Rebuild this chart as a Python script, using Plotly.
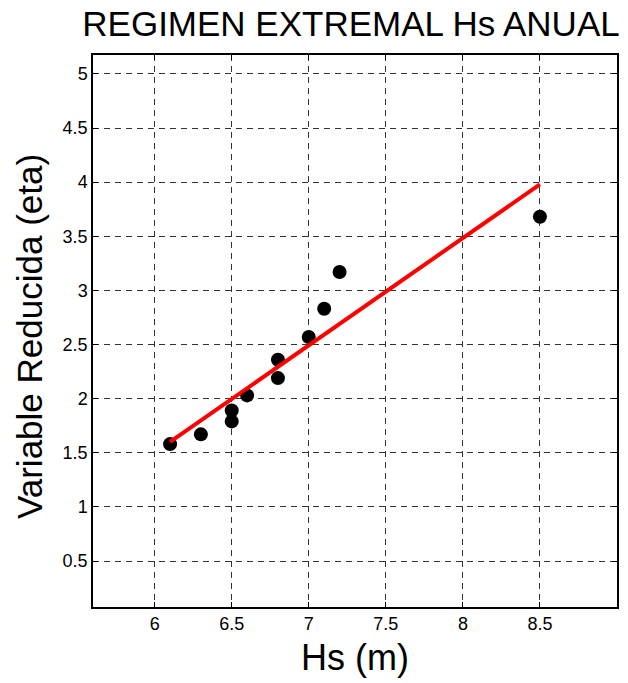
import plotly.graph_objects as go

hs = [6.1, 6.3, 6.5, 6.5, 6.6, 6.8, 6.8, 7.0, 7.1, 7.2, 8.5]
eta = [1.58, 1.67, 1.79, 1.89, 2.03, 2.19, 2.36, 2.57, 2.83, 3.17, 3.68]
fit_x = [6.1, 8.5]
fit_y = [1.60, 3.98]
x_ticks = [6, 6.5, 7, 7.5, 8, 8.5]
y_ticks = [0.5, 1, 1.5, 2, 2.5, 3, 3.5, 4, 4.5, 5]

FONT = "Liberation Sans, Arial, Helvetica, sans-serif"

fig = go.Figure()
fig.add_trace(go.Scatter(x=hs, y=eta, mode="markers",
                         marker=dict(color="black", size=14), showlegend=False))
fig.add_trace(go.Scatter(x=fit_x, y=fit_y, mode="lines",
                         line=dict(color="#ff0000", width=4), showlegend=False))

axis_common = dict(
    showline=True, linecolor="black", linewidth=1.5, mirror="ticks",
    ticks="inside", ticklen=5, tickcolor="black", tickwidth=1,
    showgrid=True, gridcolor="#333333", gridwidth=1, griddash="6px,5px",
    zeroline=False, automargin=False,
    tickfont=dict(family=FONT, size=18, color="black"),
)

W, H = 628, 683

fig.update_layout(
    width=W, height=H,
    margin=dict(l=93, r=11, t=55, b=76),
    paper_bgcolor="white", plot_bgcolor="white",
    font=dict(family=FONT, color="black"),
    title=dict(text="REGIMEN EXTREMAL Hs ANUAL", x=351 / W, xanchor="center",
               y=1 - 24 / H, yanchor="middle", yref="container", automargin=False,
               font=dict(family=FONT, size=35, color="black")),
    xaxis=dict(range=[5.6, 9.0], tickvals=x_ticks,
               ticktext=[str(v) for v in x_ticks],
               title=dict(text="Hs (m)", font=dict(family=FONT, size=36), standoff=11),
               **axis_common),
    yaxis=dict(range=[0.075, 5.175], tickvals=y_ticks,
               ticktext=[str(v) for v in y_ticks],
               **axis_common),
    annotations=[dict(text="Variable Reducida (eta)", textangle=-90,
                      xref="paper", yref="paper",
                      x=-64 / 524, y=(607 - 337) / 552,
                      xanchor="center", yanchor="middle", showarrow=False,
                      font=dict(family=FONT, size=35, color="black"))],
)

fig.write_html("out.html", config={"displayModeBar": False},
               post_script="document.body.style.margin='0';document.body.style.overflow='hidden';")
